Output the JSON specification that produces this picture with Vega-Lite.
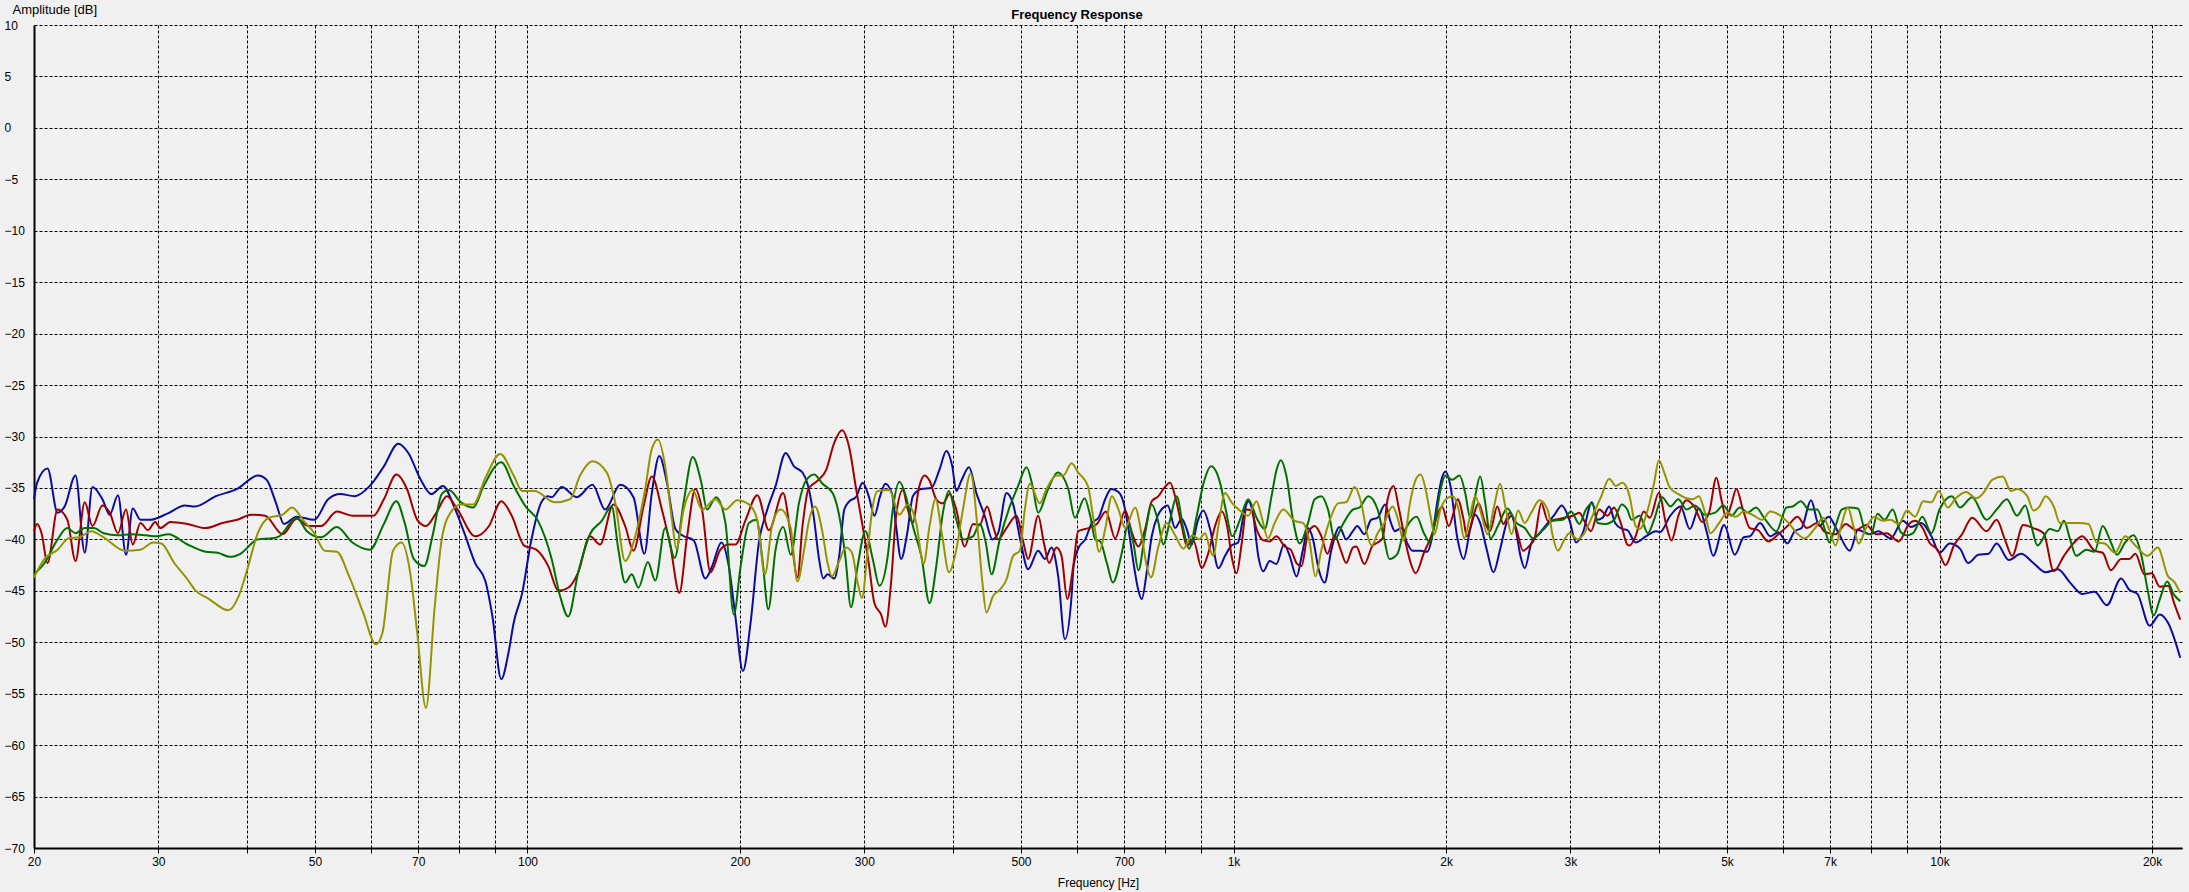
{
"$schema": "https://vega.github.io/schema/vega-lite/v6.json",
"width": 2148,
"height": 823,
"autosize": {"type": "none"},
"padding": {"left": 34, "top": 25, "right": 7, "bottom": 44},
"background": "#f0f0f0",
"config": {"view": {"stroke": null}, "font": "Liberation Sans"},
"title": {"text": "Frequency Response", "fontSize": 13, "fontWeight": "bold", "color": "#000000", "anchor": "middle", "frame": "group", "dx": -31, "offset": -32, "baseline": "bottom"},
"datasets": {
"blue": [
{"freq":20,"db":-36.1},{"freq":20.2,"db":-34.5},{"freq":20.9,"db":-33.1},{"freq":21.6,"db":-37.4},{"freq":22.1,"db":-36.8},{"freq":22.9,"db":-33.8},{"freq":23.6,"db":-41.3},{"freq":24.2,"db":-34.9},{"freq":25,"db":-36.1},{"freq":25.6,"db":-37.6},{"freq":26.3,"db":-35.7},{"freq":27,"db":-41.5},{"freq":27.6,"db":-37},{"freq":28.3,"db":-38.1},{"freq":29.2,"db":-38.1},{"freq":30.9,"db":-37.5},{"freq":32.7,"db":-36.7},{"freq":33.8,"db":-36.8},{"freq":36.2,"db":-35.8},{"freq":38.8,"db":-35.1},{"freq":41.5,"db":-33.8},{"freq":42.7,"db":-34.2},{"freq":44,"db":-36.4},{"freq":45.2,"db":-38.5},{"freq":47.1,"db":-37.8},{"freq":49.9,"db":-38.1},{"freq":52.2,"db":-36.1},{"freq":54.3,"db":-35.6},{"freq":56.9,"db":-35.8},{"freq":59.8,"db":-34.8},{"freq":62.6,"db":-32.9},{"freq":65.6,"db":-30.7},{"freq":67.8,"db":-31.6},{"freq":70.6,"db":-34.2},{"freq":73.1,"db":-35.6},{"freq":75.9,"db":-34.8},{"freq":78.7,"db":-36.8},{"freq":81.4,"db":-39.4},{"freq":84.3,"db":-42.3},{"freq":87.2,"db":-44.1},{"freq":89.2,"db":-47.5},{"freq":91.8,"db":-53.6},{"freq":94,"db":-51},{"freq":95.6,"db":-48.1},{"freq":98.3,"db":-45.2},{"freq":101.1,"db":-40.3},{"freq":104.6,"db":-36.4},{"freq":106.8,"db":-35.8},{"freq":108.2,"db":-35.9},{"freq":111.8,"db":-34.9},{"freq":117.4,"db":-35.9},{"freq":123.6,"db":-34.7},{"freq":128.8,"db":-37.1},{"freq":135.3,"db":-34.7},{"freq":141.3,"db":-35.9},{"freq":146.4,"db":-41.4},{"freq":150,"db":-35.5},{"freq":153.7,"db":-31.9},{"freq":157.6,"db":-34.5},{"freq":162,"db":-39},{"freq":165.6,"db":-39.6},{"freq":172,"db":-40.1},{"freq":178.6,"db":-43.8},{"freq":182.6,"db":-42.6},{"freq":188.2,"db":-40.3},{"freq":192.8,"db":-42.6},{"freq":197,"db":-47.5},{"freq":201.9,"db":-52.8},{"freq":207,"db":-48.1},{"freq":212.7,"db":-40.3},{"freq":218.6,"db":-37.1},{"freq":224.6,"db":-34.8},{"freq":232.1,"db":-31.6},{"freq":238.5,"db":-32.9},{"freq":245.2,"db":-33.5},{"freq":249.2,"db":-34.6},{"freq":254.7,"db":-38.1},{"freq":258.4,"db":-41.6},{"freq":262.4,"db":-43.8},{"freq":266.1,"db":-43.4},{"freq":272,"db":-43.8},{"freq":276.4,"db":-41.6},{"freq":281,"db":-37.1},{"freq":285.6,"db":-36.3},{"freq":291.9,"db":-35.9},{"freq":298.3,"db":-34.5},{"freq":304.3,"db":-35.8},{"freq":310,"db":-37.7},{"freq":315.8,"db":-35.8},{"freq":321.3,"db":-34.6},{"freq":328.4,"db":-35.6},{"freq":332.7,"db":-38.7},{"freq":338.2,"db":-41.9},{"freq":345,"db":-39.4},{"freq":351.4,"db":-35.8},{"freq":361.2,"db":-35.1},{"freq":373.2,"db":-35},{"freq":383.4,"db":-33.2},{"freq":391.9,"db":-31.4},{"freq":399.6,"db":-32.9},{"freq":404.9,"db":-35.3},{"freq":411.6,"db":-34.3},{"freq":422,"db":-33},{"freq":432.3,"db":-35.5},{"freq":444.2,"db":-37.7},{"freq":455.6,"db":-40},{"freq":464.1,"db":-39.4},{"freq":476.9,"db":-35.5},{"freq":487.4,"db":-36.6},{"freq":499.7,"db":-40.3},{"freq":511.8,"db":-42.9},{"freq":528.8,"db":-41.1},{"freq":540.5,"db":-41.9},{"freq":552.3,"db":-40.8},{"freq":564.5,"db":-43.6},{"freq":577,"db":-49.7},{"freq":589.7,"db":-45.5},{"freq":593.6,"db":-42.6},{"freq":603.4,"db":-40.8},{"freq":616.6,"db":-40},{"freq":630.1,"db":-38.4},{"freq":643.9,"db":-37.9},{"freq":658,"db":-36.1},{"freq":671,"db":-35.1},{"freq":687.2,"db":-35.4},{"freq":698.4,"db":-36.4},{"freq":709.9,"db":-39},{"freq":724,"db":-42.9},{"freq":733.4,"db":-45},{"freq":741.3,"db":-45.8},{"freq":753.5,"db":-43.2},{"freq":765.9,"db":-39.7},{"freq":781,"db":-37.7},{"freq":795.6,"db":-36.9},{"freq":806.9,"db":-36.7},{"freq":826.5,"db":-38.9},{"freq":844.6,"db":-38},{"freq":858.4,"db":-39},{"freq":872.6,"db":-40.5},{"freq":889.9,"db":-38.2},{"freq":906.5,"db":-37.2},{"freq":926.4,"db":-39},{"freq":951.9,"db":-42.8},{"freq":972.8,"db":-41.6},{"freq":993.6,"db":-40.6},{"freq":1015,"db":-40.3},{"freq":1032,"db":-37.9},{"freq":1049,"db":-36.3},{"freq":1066,"db":-37.6},{"freq":1084,"db":-41.6},{"freq":1102,"db":-43.1},{"freq":1125,"db":-42.1},{"freq":1150,"db":-42.4},{"freq":1179,"db":-40.5},{"freq":1201,"db":-41.6},{"freq":1228,"db":-43.6},{"freq":1254,"db":-41},{"freq":1275,"db":-38.9},{"freq":1296,"db":-40},{"freq":1320,"db":-42.9},{"freq":1346,"db":-44.2},{"freq":1376,"db":-41},{"freq":1413,"db":-38.8},{"freq":1444,"db":-40},{"freq":1476,"db":-39.2},{"freq":1497,"db":-38.7},{"freq":1532,"db":-39.5},{"freq":1566,"db":-38.1},{"freq":1600,"db":-37.9},{"freq":1639,"db":-36.6},{"freq":1671,"db":-38.4},{"freq":1692,"db":-39.2},{"freq":1729,"db":-38.9},{"freq":1763,"db":-40.4},{"freq":1792,"db":-41.1},{"freq":1841,"db":-41.1},{"freq":1881,"db":-41.2},{"freq":1912,"db":-39.7},{"freq":1943,"db":-36.4},{"freq":1974,"db":-34},{"freq":1996,"db":-33.4},{"freq":2029,"db":-34.8},{"freq":2073,"db":-39.7},{"freq":2118,"db":-41.9},{"freq":2164,"db":-39},{"freq":2199,"db":-37.6},{"freq":2235,"db":-38.4},{"freq":2284,"db":-41},{"freq":2334,"db":-43.2},{"freq":2385,"db":-41},{"freq":2437,"db":-38.4},{"freq":2476,"db":-37.7},{"freq":2516,"db":-39.4},{"freq":2549,"db":-41.6},{"freq":2585,"db":-42.8},{"freq":2641,"db":-40.4},{"freq":2713,"db":-39.4},{"freq":2788,"db":-38.4},{"freq":2849,"db":-37.6},{"freq":2917,"db":-36.7},{"freq":2990,"db":-38.1},{"freq":3056,"db":-40.3},{"freq":3123,"db":-39.4},{"freq":3218,"db":-36.4},{"freq":3278,"db":-38.1},{"freq":3332,"db":-37.9},{"freq":3405,"db":-36.8},{"freq":3471,"db":-38.4},{"freq":3554,"db":-39},{"freq":3612,"db":-39.1},{"freq":3711,"db":-40.3},{"freq":3837,"db":-39.7},{"freq":3967,"db":-39.2},{"freq":4019,"db":-39.3},{"freq":4156,"db":-37.7},{"freq":4296,"db":-36.8},{"freq":4429,"db":-39},{"freq":4561,"db":-37},{"freq":4685,"db":-39.4},{"freq":4779,"db":-41.6},{"freq":4953,"db":-38.6},{"freq":5129,"db":-41.5},{"freq":5281,"db":-39.8},{"freq":5387,"db":-39.7},{"freq":5569,"db":-38.4},{"freq":5757,"db":-39.7},{"freq":5912,"db":-39.3},{"freq":6087,"db":-40.4},{"freq":6235,"db":-39.2},{"freq":6377,"db":-38.9},{"freq":6576,"db":-36.2},{"freq":6754,"db":-38.7},{"freq":6964,"db":-37.8},{"freq":7171,"db":-39.2},{"freq":7463,"db":-41.1},{"freq":7664,"db":-39.1},{"freq":7976,"db":-39.5},{"freq":8190,"db":-39.2},{"freq":8525,"db":-39.9},{"freq":8872,"db":-38.2},{"freq":9112,"db":-38.8},{"freq":9419,"db":-38.4},{"freq":9738,"db":-39.7},{"freq":10000,"db":-41.3},{"freq":10339,"db":-40.4},{"freq":10689,"db":-40.9},{"freq":10978,"db":-42.3},{"freq":11348,"db":-41.5},{"freq":11730,"db":-41.4},{"freq":12047,"db":-40.4},{"freq":12536,"db":-42},{"freq":13048,"db":-41.4},{"freq":13580,"db":-42.3},{"freq":14132,"db":-43.2},{"freq":14710,"db":-42.9},{"freq":15307,"db":-44.2},{"freq":15929,"db":-45.3},{"freq":16580,"db":-45.1},{"freq":17255,"db":-46.4},{"freq":18077,"db":-43.8},{"freq":18566,"db":-44.9},{"freq":19064,"db":-45.3},{"freq":19843,"db":-48.4},{"freq":20512,"db":-47.3},{"freq":21067,"db":-48.1},{"freq":21923,"db":-51.5}
],
"red": [
{"freq":20,"db":-39.2},{"freq":20.2,"db":-38.5},{"freq":20.5,"db":-39.4},{"freq":20.9,"db":-42.3},{"freq":21.6,"db":-37.1},{"freq":22.3,"db":-38.1},{"freq":22.9,"db":-42.1},{"freq":23.6,"db":-36.4},{"freq":24.2,"db":-38.7},{"freq":25,"db":-36.7},{"freq":25.6,"db":-37.4},{"freq":26.3,"db":-39.4},{"freq":27,"db":-37.1},{"freq":27.6,"db":-40.5},{"freq":28.3,"db":-38.4},{"freq":29,"db":-39.1},{"freq":29.7,"db":-38.3},{"freq":30.2,"db":-38.9},{"freq":31.2,"db":-38.3},{"freq":33,"db":-38.5},{"freq":35,"db":-38.9},{"freq":37,"db":-38.4},{"freq":38.8,"db":-38.1},{"freq":40.6,"db":-37.6},{"freq":42.5,"db":-37.7},{"freq":45,"db":-39.5},{"freq":47.1,"db":-38},{"freq":49,"db":-38.7},{"freq":51,"db":-38.7},{"freq":53.7,"db":-37.3},{"freq":56.5,"db":-37.7},{"freq":60.5,"db":-37.7},{"freq":62.6,"db":-36.1},{"freq":65.2,"db":-33.7},{"freq":67.5,"db":-35.1},{"freq":69.8,"db":-38.1},{"freq":71.8,"db":-38.7},{"freq":74.3,"db":-37.4},{"freq":76.9,"db":-35.8},{"freq":79.6,"db":-37.1},{"freq":84.3,"db":-39.7},{"freq":88.2,"db":-38.7},{"freq":91.8,"db":-36.3},{"freq":95,"db":-37.7},{"freq":98.9,"db":-40.6},{"freq":102.9,"db":-41},{"freq":107,"db":-42.6},{"freq":110.6,"db":-45},{"freq":114.2,"db":-44.7},{"freq":118,"db":-43.2},{"freq":122.6,"db":-39.7},{"freq":126.7,"db":-40.5},{"freq":132.3,"db":-36.6},{"freq":137.5,"db":-38.7},{"freq":141.3,"db":-41.1},{"freq":146,"db":-36.8},{"freq":150,"db":-33.9},{"freq":155,"db":-37.1},{"freq":159.3,"db":-40.6},{"freq":164.1,"db":-45.2},{"freq":168.3,"db":-39.7},{"freq":172.9,"db":-35.1},{"freq":176.7,"db":-37.1},{"freq":181.6,"db":-43.2},{"freq":187.6,"db":-41},{"freq":192.8,"db":-40.5},{"freq":197,"db":-40.5},{"freq":203.7,"db":-38.1},{"freq":211.6,"db":-35.7},{"freq":219.8,"db":-39.1},{"freq":230.1,"db":-35.5},{"freq":235.9,"db":-39.5},{"freq":241.2,"db":-43.7},{"freq":245.2,"db":-38.7},{"freq":250,"db":-35.1},{"freq":257.5,"db":-34.3},{"freq":264.7,"db":-33.3},{"freq":272,"db":-30.6},{"freq":278.9,"db":-29.4},{"freq":285.6,"db":-31.1},{"freq":291.9,"db":-35},{"freq":298.3,"db":-38.7},{"freq":304.3,"db":-42.3},{"freq":310,"db":-46.2},{"freq":316.8,"db":-47.3},{"freq":321.3,"db":-48.5},{"freq":327.3,"db":-44.2},{"freq":332.7,"db":-37.7},{"freq":340.1,"db":-35.2},{"freq":345.7,"db":-37.1},{"freq":351.4,"db":-38.4},{"freq":358.4,"db":-35},{"freq":365.1,"db":-33.8},{"freq":371.1,"db":-34.3},{"freq":379.3,"db":-36.1},{"freq":387.6,"db":-36.5},{"freq":396.2,"db":-35.6},{"freq":404.9,"db":-37.1},{"freq":416,"db":-40.7},{"freq":427.6,"db":-38.5},{"freq":437,"db":-38.6},{"freq":447.7,"db":-36.8},{"freq":456.5,"db":-38.7},{"freq":464.1,"db":-40},{"freq":476.9,"db":-38.9},{"freq":492.8,"db":-37.7},{"freq":503.5,"db":-40.2},{"freq":511.8,"db":-41.9},{"freq":528.8,"db":-37.7},{"freq":538.6,"db":-40.3},{"freq":548.1,"db":-42.3},{"freq":561.4,"db":-40.8},{"freq":570.7,"db":-41.6},{"freq":581.4,"db":-45.8},{"freq":592.9,"db":-42.6},{"freq":602.6,"db":-39.2},{"freq":623.3,"db":-38.9},{"freq":640.4,"db":-38.5},{"freq":659.5,"db":-37.3},{"freq":679.8,"db":-39.9},{"freq":702.3,"db":-37.2},{"freq":717.6,"db":-39.3},{"freq":733.4,"db":-40.7},{"freq":749.5,"db":-39},{"freq":765.9,"db":-36.3},{"freq":782.7,"db":-35.8},{"freq":795.6,"db":-35.1},{"freq":813.1,"db":-34.5},{"freq":826.5,"db":-35.8},{"freq":844.6,"db":-38.7},{"freq":858.4,"db":-40.6},{"freq":877.4,"db":-40.1},{"freq":901.5,"db":-42.8},{"freq":921.3,"db":-41.3},{"freq":941.7,"db":-38.7},{"freq":962.2,"db":-37.3},{"freq":981,"db":-39},{"freq":993.6,"db":-41.6},{"freq":1010,"db":-43.3},{"freq":1027,"db":-40.4},{"freq":1043,"db":-37.1},{"freq":1060,"db":-37.2},{"freq":1078,"db":-39},{"freq":1102,"db":-40.1},{"freq":1125,"db":-40.2},{"freq":1150,"db":-39.7},{"freq":1182,"db":-40.7},{"freq":1205,"db":-41},{"freq":1228,"db":-42.3},{"freq":1248,"db":-42.6},{"freq":1275,"db":-39.4},{"freq":1303,"db":-38.7},{"freq":1332,"db":-39.7},{"freq":1358,"db":-41.4},{"freq":1391,"db":-39.6},{"freq":1418,"db":-41},{"freq":1444,"db":-42.3},{"freq":1476,"db":-40.8},{"freq":1492,"db":-40.7},{"freq":1532,"db":-42.4},{"freq":1574,"db":-40.6},{"freq":1600,"db":-40.3},{"freq":1626,"db":-39.9},{"freq":1653,"db":-36.1},{"freq":1685,"db":-34.8},{"freq":1716,"db":-37.1},{"freq":1754,"db":-40.4},{"freq":1782,"db":-42.3},{"freq":1811,"db":-43.3},{"freq":1861,"db":-41.3},{"freq":1912,"db":-39.4},{"freq":1943,"db":-37.7},{"freq":1974,"db":-36.8},{"freq":2018,"db":-38.7},{"freq":2050,"db":-37.4},{"freq":2077,"db":-36.1},{"freq":2118,"db":-38.1},{"freq":2140,"db":-39.7},{"freq":2187,"db":-37.7},{"freq":2223,"db":-36.5},{"freq":2272,"db":-38.4},{"freq":2308,"db":-39.2},{"freq":2364,"db":-36.8},{"freq":2411,"db":-38.5},{"freq":2463,"db":-37.4},{"freq":2516,"db":-39},{"freq":2571,"db":-41.1},{"freq":2627,"db":-40.6},{"freq":2670,"db":-39.9},{"freq":2729,"db":-36.5},{"freq":2788,"db":-38.2},{"freq":2849,"db":-38.1},{"freq":2943,"db":-37.9},{"freq":3023,"db":-37.7},{"freq":3089,"db":-37.4},{"freq":3139,"db":-38.2},{"freq":3208,"db":-39.2},{"freq":3295,"db":-37.1},{"freq":3386,"db":-37.7},{"freq":3459,"db":-36.9},{"freq":3535,"db":-38.4},{"freq":3612,"db":-40.5},{"freq":3639,"db":-40.6},{"freq":3711,"db":-39.7},{"freq":3811,"db":-37.3},{"freq":3888,"db":-37.9},{"freq":4003,"db":-35.5},{"freq":4101,"db":-38.6},{"freq":4172,"db":-40.1},{"freq":4267,"db":-37.7},{"freq":4382,"db":-36.2},{"freq":4501,"db":-36.9},{"freq":4610,"db":-38.3},{"freq":4716,"db":-37.4},{"freq":4830,"db":-34},{"freq":4908,"db":-36.1},{"freq":4987,"db":-37.9},{"freq":5061,"db":-36.8},{"freq":5156,"db":-35.1},{"freq":5266,"db":-37.1},{"freq":5387,"db":-38.9},{"freq":5532,"db":-39.1},{"freq":5718,"db":-40.2},{"freq":5912,"db":-39.5},{"freq":6111,"db":-38.6},{"freq":6293,"db":-37.8},{"freq":6489,"db":-38.9},{"freq":6709,"db":-38.4},{"freq":6890,"db":-39.3},{"freq":7124,"db":-39.5},{"freq":7364,"db":-38.5},{"freq":7614,"db":-39.1},{"freq":7870,"db":-38.6},{"freq":8137,"db":-39.5},{"freq":8412,"db":-39.4},{"freq":8754,"db":-40.2},{"freq":9051,"db":-38.5},{"freq":9234,"db":-38.2},{"freq":9482,"db":-39},{"freq":9673,"db":-40.3},{"freq":9934,"db":-41},{"freq":10202,"db":-42.5},{"freq":10479,"db":-40.6},{"freq":10761,"db":-39.5},{"freq":11123,"db":-37.9},{"freq":11655,"db":-39.2},{"freq":12047,"db":-38.1},{"freq":12373,"db":-40},{"freq":12672,"db":-41.6},{"freq":13136,"db":-38.6},{"freq":13580,"db":-38.9},{"freq":14041,"db":-39.4},{"freq":14514,"db":-43.1},{"freq":15004,"db":-41.6},{"freq":15513,"db":-40.3},{"freq":15929,"db":-39.7},{"freq":16580,"db":-41.1},{"freq":17025,"db":-41.3},{"freq":17487,"db":-43},{"freq":18077,"db":-41.9},{"freq":18566,"db":-41.9},{"freq":18941,"db":-41.4},{"freq":19503,"db":-43.4},{"freq":19976,"db":-43.3},{"freq":20512,"db":-44.6},{"freq":21067,"db":-44.5},{"freq":21489,"db":-46.2},{"freq":21923,"db":-47.8}
],
"green": [
{"freq":20,"db":-43.4},{"freq":20.7,"db":-42.3},{"freq":21.6,"db":-40},{"freq":22.3,"db":-38.9},{"freq":22.9,"db":-39.4},{"freq":23.6,"db":-38.9},{"freq":24.3,"db":-38.9},{"freq":25.1,"db":-39.4},{"freq":26.3,"db":-39.6},{"freq":27.5,"db":-39.5},{"freq":28.8,"db":-39.6},{"freq":29.8,"db":-39.7},{"freq":31,"db":-39.5},{"freq":33,"db":-40.5},{"freq":35,"db":-41.2},{"freq":36.4,"db":-41.3},{"freq":37.9,"db":-41.7},{"freq":39.2,"db":-41.4},{"freq":41.5,"db":-40},{"freq":43.5,"db":-39.9},{"freq":44.5,"db":-39.7},{"freq":47.1,"db":-37.9},{"freq":48.7,"db":-39.2},{"freq":51,"db":-39.8},{"freq":53.7,"db":-38.8},{"freq":56.5,"db":-40.3},{"freq":59.8,"db":-41},{"freq":62.6,"db":-38.5},{"freq":65.2,"db":-36.3},{"freq":67,"db":-38.4},{"freq":69,"db":-41.9},{"freq":71.4,"db":-42.6},{"freq":73.5,"db":-39.4},{"freq":75.6,"db":-35.6},{"freq":77.4,"db":-35.2},{"freq":80.5,"db":-36.4},{"freq":83.8,"db":-36.9},{"freq":86.7,"db":-34.8},{"freq":91.8,"db":-32.5},{"freq":95.6,"db":-34.8},{"freq":99.4,"db":-36.8},{"freq":103.5,"db":-38.2},{"freq":108.2,"db":-41.9},{"freq":111.2,"db":-45.5},{"freq":114.2,"db":-47.5},{"freq":118,"db":-43.2},{"freq":122.6,"db":-39.5},{"freq":127.4,"db":-38.2},{"freq":131.6,"db":-36.8},{"freq":134.5,"db":-41},{"freq":137.5,"db":-44.2},{"freq":140.5,"db":-43.4},{"freq":143.6,"db":-44.7},{"freq":148.1,"db":-42.2},{"freq":151.7,"db":-44},{"freq":156.7,"db":-38.9},{"freq":161.6,"db":-41.8},{"freq":166.4,"db":-36.4},{"freq":171.4,"db":-32},{"freq":176.3,"db":-34.5},{"freq":179.6,"db":-37.1},{"freq":185,"db":-35.9},{"freq":190.7,"db":-38.4},{"freq":196,"db":-47.3},{"freq":200.4,"db":-42.6},{"freq":205.9,"db":-38.4},{"freq":210.9,"db":-38.1},{"freq":215.1,"db":-41.9},{"freq":219.3,"db":-46.8},{"freq":224.6,"db":-41},{"freq":230.3,"db":-38.8},{"freq":236,"db":-41.5},{"freq":242.5,"db":-36.4},{"freq":247.9,"db":-34.3},{"freq":254.7,"db":-33.7},{"freq":261.8,"db":-34.6},{"freq":270.5,"db":-35.5},{"freq":276.4,"db":-37.7},{"freq":281.9,"db":-41.6},{"freq":287.2,"db":-46.6},{"freq":293.5,"db":-42.6},{"freq":301,"db":-39.2},{"freq":308.3,"db":-41.9},{"freq":315.1,"db":-44.5},{"freq":323.8,"db":-41.6},{"freq":329.1,"db":-37.1},{"freq":336.4,"db":-34.4},{"freq":343.8,"db":-35.9},{"freq":351.4,"db":-38.7},{"freq":361.2,"db":-41.6},{"freq":371.1,"db":-46.2},{"freq":379.3,"db":-42.6},{"freq":387.6,"db":-37.4},{"freq":395.3,"db":-35.3},{"freq":404.9,"db":-38.1},{"freq":413.8,"db":-40},{"freq":427.6,"db":-39.7},{"freq":437,"db":-38.5},{"freq":445.7,"db":-40.3},{"freq":454.1,"db":-43.4},{"freq":466.6,"db":-40},{"freq":482.1,"db":-36.8},{"freq":495.4,"db":-34.8},{"freq":509.1,"db":-33},{"freq":519.2,"db":-34.8},{"freq":528.8,"db":-37.4},{"freq":546.3,"db":-35.1},{"freq":563.3,"db":-33.5},{"freq":583.3,"db":-35.1},{"freq":596.2,"db":-37.9},{"freq":615.2,"db":-36},{"freq":626.6,"db":-37.7},{"freq":637,"db":-40},{"freq":647.4,"db":-40.2},{"freq":661.6,"db":-42.3},{"freq":674.7,"db":-44.2},{"freq":694.7,"db":-41.3},{"freq":709.9,"db":-38.4},{"freq":721.6,"db":-40.4},{"freq":733.4,"db":-43},{"freq":749.5,"db":-39.4},{"freq":765.9,"db":-36.6},{"freq":781,"db":-38.1},{"freq":795.6,"db":-40.5},{"freq":813.1,"db":-38.1},{"freq":830.9,"db":-35.8},{"freq":849.2,"db":-39},{"freq":865,"db":-40.9},{"freq":887,"db":-37.7},{"freq":906.5,"db":-34.6},{"freq":929.4,"db":-32.9},{"freq":957,"db":-34.5},{"freq":974.9,"db":-37.1},{"freq":995.7,"db":-39.7},{"freq":1021,"db":-38.1},{"freq":1049,"db":-36.1},{"freq":1078,"db":-37.9},{"freq":1107,"db":-39},{"freq":1132,"db":-35.8},{"freq":1150,"db":-33.3},{"freq":1167,"db":-32.3},{"freq":1188,"db":-33.8},{"freq":1214,"db":-38.1},{"freq":1241,"db":-40.4},{"freq":1275,"db":-38.4},{"freq":1303,"db":-36.1},{"freq":1332,"db":-35.8},{"freq":1361,"db":-37.1},{"freq":1391,"db":-40},{"freq":1429,"db":-38.5},{"freq":1476,"db":-37.1},{"freq":1508,"db":-36.9},{"freq":1552,"db":-35.8},{"freq":1600,"db":-37.1},{"freq":1635,"db":-40},{"freq":1662,"db":-41.9},{"freq":1707,"db":-41.4},{"freq":1735,"db":-39.7},{"freq":1773,"db":-38.4},{"freq":1817,"db":-37.8},{"freq":1861,"db":-39.4},{"freq":1898,"db":-40.3},{"freq":1932,"db":-38.1},{"freq":1964,"db":-35.2},{"freq":1996,"db":-33.8},{"freq":2040,"db":-34.2},{"freq":2090,"db":-33.8},{"freq":2129,"db":-35.5},{"freq":2164,"db":-37.9},{"freq":2199,"db":-35.8},{"freq":2235,"db":-33.9},{"freq":2272,"db":-36.4},{"freq":2313,"db":-39.9},{"freq":2372,"db":-38.6},{"freq":2442,"db":-37},{"freq":2516,"db":-38.4},{"freq":2585,"db":-38.9},{"freq":2657,"db":-39.9},{"freq":2743,"db":-39.1},{"freq":2833,"db":-38.2},{"freq":2927,"db":-38.1},{"freq":3007,"db":-37.3},{"freq":3089,"db":-38.5},{"freq":3156,"db":-37.1},{"freq":3225,"db":-36.5},{"freq":3278,"db":-38.4},{"freq":3368,"db":-38.5},{"freq":3459,"db":-38.1},{"freq":3547,"db":-36.6},{"freq":3612,"db":-37.1},{"freq":3663,"db":-38.1},{"freq":3761,"db":-37.7},{"freq":3862,"db":-39.4},{"freq":3950,"db":-37.9},{"freq":4046,"db":-35.9},{"freq":4156,"db":-36.8},{"freq":4267,"db":-36.1},{"freq":4382,"db":-37.1},{"freq":4501,"db":-36.7},{"freq":4653,"db":-37.6},{"freq":4811,"db":-37.4},{"freq":4941,"db":-36.7},{"freq":5074,"db":-37.7},{"freq":5211,"db":-36.9},{"freq":5351,"db":-37.4},{"freq":5495,"db":-36.9},{"freq":5643,"db":-37.9},{"freq":5873,"db":-39.2},{"freq":6071,"db":-36.9},{"freq":6194,"db":-36.8},{"freq":6361,"db":-36.3},{"freq":6532,"db":-37.1},{"freq":6709,"db":-37.1},{"freq":6890,"db":-39.2},{"freq":6982,"db":-40.3},{"freq":7124,"db":-38.7},{"freq":7267,"db":-37.1},{"freq":7442,"db":-36.9},{"freq":7664,"db":-37},{"freq":7870,"db":-39.4},{"freq":7998,"db":-39.5},{"freq":8169,"db":-37.5},{"freq":8356,"db":-38.1},{"freq":8582,"db":-37.1},{"freq":8813,"db":-39.3},{"freq":8991,"db":-39.6},{"freq":9173,"db":-39.4},{"freq":9456,"db":-37.8},{"freq":9738,"db":-39.4},{"freq":10000,"db":-37.1},{"freq":10409,"db":-35.8},{"freq":10689,"db":-36.9},{"freq":11123,"db":-35.9},{"freq":11655,"db":-38.1},{"freq":12047,"db":-37.1},{"freq":12453,"db":-36.1},{"freq":12875,"db":-37.7},{"freq":13224,"db":-36.7},{"freq":13490,"db":-38.7},{"freq":13762,"db":-40.6},{"freq":14322,"db":-39},{"freq":14710,"db":-39.2},{"freq":15004,"db":-38.2},{"freq":15307,"db":-40},{"freq":15617,"db":-41.6},{"freq":16143,"db":-41},{"freq":16580,"db":-41.2},{"freq":17025,"db":-38.7},{"freq":17487,"db":-40.3},{"freq":17841,"db":-41.5},{"freq":18320,"db":-40.3},{"freq":18815,"db":-39.6},{"freq":19320,"db":-41.6},{"freq":19711,"db":-44.9},{"freq":20109,"db":-47.4},{"freq":20512,"db":-45.8},{"freq":21009,"db":-44.1},{"freq":21489,"db":-45.4},{"freq":21923,"db":-46}
],
"olive": [
{"freq":20,"db":-43.7},{"freq":20.7,"db":-41.9},{"freq":21.6,"db":-41},{"freq":22.4,"db":-39.9},{"freq":23.2,"db":-39.8},{"freq":24.1,"db":-39.2},{"freq":25.1,"db":-39.8},{"freq":26.9,"db":-41.1},{"freq":28.3,"db":-41},{"freq":29.5,"db":-40.3},{"freq":30.3,"db":-40.4},{"freq":31.6,"db":-42.3},{"freq":33,"db":-43.9},{"freq":33.8,"db":-44.9},{"freq":35.4,"db":-45.8},{"freq":37.7,"db":-46.9},{"freq":39,"db":-45.5},{"freq":40.1,"db":-42.9},{"freq":41.5,"db":-39.4},{"freq":43,"db":-37.9},{"freq":45,"db":-37.6},{"freq":46.4,"db":-36.9},{"freq":48.2,"db":-38.2},{"freq":49.9,"db":-39.4},{"freq":51.6,"db":-41.1},{"freq":53.7,"db":-41.2},{"freq":55.9,"db":-43.6},{"freq":58.5,"db":-47.1},{"freq":61,"db":-50.2},{"freq":62.3,"db":-49.1},{"freq":64.5,"db":-41.1},{"freq":66.3,"db":-40.3},{"freq":68.2,"db":-43.2},{"freq":69.8,"db":-49.1},{"freq":71.8,"db":-56.4},{"freq":73.9,"db":-46.5},{"freq":75.6,"db":-40},{"freq":77.8,"db":-37.4},{"freq":80.5,"db":-36.6},{"freq":83.8,"db":-36.6},{"freq":87.2,"db":-34},{"freq":91.5,"db":-31.7},{"freq":95.6,"db":-33.8},{"freq":98.3,"db":-35.3},{"freq":102.3,"db":-35.3},{"freq":109.4,"db":-36.4},{"freq":114.9,"db":-36.1},{"freq":118.7,"db":-33.8},{"freq":123.6,"db":-32.4},{"freq":129.5,"db":-33.5},{"freq":133.1,"db":-36.4},{"freq":137.5,"db":-42.1},{"freq":142.1,"db":-39.7},{"freq":146.8,"db":-35.1},{"freq":150,"db":-31.2},{"freq":153,"db":-30.3},{"freq":156.7,"db":-32.9},{"freq":160.2,"db":-38.1},{"freq":162.5,"db":-40.9},{"freq":166.4,"db":-37.1},{"freq":171.4,"db":-35.2},{"freq":176.7,"db":-37.1},{"freq":184.6,"db":-36.1},{"freq":190.7,"db":-37.1},{"freq":198.2,"db":-36.2},{"freq":205.9,"db":-36.6},{"freq":211.6,"db":-38.1},{"freq":216.9,"db":-43.4},{"freq":222.2,"db":-38.5},{"freq":228.3,"db":-37.1},{"freq":235.9,"db":-38.9},{"freq":241.2,"db":-44.1},{"freq":246.5,"db":-41},{"freq":250.6,"db":-38.1},{"freq":255.5,"db":-36.8},{"freq":261.2,"db":-39},{"freq":266.1,"db":-42.3},{"freq":269.9,"db":-43.6},{"freq":276.4,"db":-42.1},{"freq":282.5,"db":-40.8},{"freq":288.1,"db":-41.3},{"freq":293.5,"db":-44.2},{"freq":297.7,"db":-45.7},{"freq":303.3,"db":-41},{"freq":308.3,"db":-36.8},{"freq":313.3,"db":-35.3},{"freq":325.5,"db":-35.2},{"freq":336.4,"db":-37.6},{"freq":345.7,"db":-36.6},{"freq":355.3,"db":-38.4},{"freq":363.9,"db":-42.4},{"freq":371.1,"db":-38.7},{"freq":378.4,"db":-36.1},{"freq":386.8,"db":-39.7},{"freq":395.3,"db":-43.2},{"freq":404.9,"db":-41},{"freq":413.8,"db":-37.1},{"freq":424.3,"db":-33.6},{"freq":434.6,"db":-39.4},{"freq":440.9,"db":-44.2},{"freq":446.7,"db":-47.1},{"freq":456.5,"db":-45.5},{"freq":466.6,"db":-44.9},{"freq":476.9,"db":-43.9},{"freq":487.4,"db":-41.6},{"freq":498.1,"db":-41.1},{"freq":506.3,"db":-37.1},{"freq":514.6,"db":-34.6},{"freq":531.7,"db":-36.5},{"freq":543.3,"db":-35.1},{"freq":561.4,"db":-33.8},{"freq":573.9,"db":-33.8},{"freq":589.7,"db":-32.6},{"freq":602.6,"db":-33.5},{"freq":621.9,"db":-34.8},{"freq":633.5,"db":-38.1},{"freq":645.3,"db":-41.2},{"freq":658,"db":-39},{"freq":672.5,"db":-35.8},{"freq":687.2,"db":-37.1},{"freq":702.3,"db":-38.9},{"freq":725.5,"db":-36.9},{"freq":741.3,"db":-39.6},{"freq":753.5,"db":-42.6},{"freq":764.2,"db":-43.7},{"freq":782.7,"db":-40.7},{"freq":804.3,"db":-38.4},{"freq":826.5,"db":-39.6},{"freq":849.2,"db":-40.9},{"freq":874.5,"db":-39.6},{"freq":893.8,"db":-40},{"freq":911.4,"db":-39.4},{"freq":926.4,"db":-41},{"freq":936.5,"db":-41.6},{"freq":951.9,"db":-38.7},{"freq":972.8,"db":-35.5},{"freq":993.6,"db":-36.4},{"freq":1021,"db":-37.2},{"freq":1049,"db":-37.7},{"freq":1078,"db":-36.3},{"freq":1095,"db":-37.7},{"freq":1119,"db":-39.9},{"freq":1144,"db":-38.4},{"freq":1176,"db":-37.1},{"freq":1221,"db":-38.2},{"freq":1254,"db":-38.4},{"freq":1282,"db":-40.3},{"freq":1306,"db":-43.6},{"freq":1332,"db":-41},{"freq":1376,"db":-37.7},{"freq":1406,"db":-36.5},{"freq":1444,"db":-36.4},{"freq":1484,"db":-34.9},{"freq":1516,"db":-36.4},{"freq":1549,"db":-39.7},{"freq":1569,"db":-40.6},{"freq":1600,"db":-39.4},{"freq":1635,"db":-38.4},{"freq":1680,"db":-36.8},{"freq":1711,"db":-38.1},{"freq":1740,"db":-40.1},{"freq":1782,"db":-36.1},{"freq":1811,"db":-34.2},{"freq":1841,"db":-33.7},{"freq":1871,"db":-35.1},{"freq":1901,"db":-37.7},{"freq":1926,"db":-39.5},{"freq":1964,"db":-37.1},{"freq":2007,"db":-36},{"freq":2046,"db":-35.8},{"freq":2084,"db":-37.1},{"freq":2122,"db":-39.9},{"freq":2164,"db":-37.6},{"freq":2199,"db":-35.8},{"freq":2247,"db":-37.7},{"freq":2289,"db":-39.5},{"freq":2339,"db":-36.8},{"freq":2385,"db":-34.6},{"freq":2431,"db":-37.1},{"freq":2476,"db":-39.5},{"freq":2530,"db":-37.2},{"freq":2585,"db":-38.4},{"freq":2641,"db":-37.4},{"freq":2713,"db":-36.2},{"freq":2788,"db":-37.2},{"freq":2833,"db":-39.7},{"freq":2880,"db":-41.1},{"freq":2943,"db":-40},{"freq":2990,"db":-39.4},{"freq":3072,"db":-40},{"freq":3139,"db":-39.4},{"freq":3225,"db":-37.7},{"freq":3314,"db":-35.9},{"freq":3405,"db":-34.1},{"freq":3478,"db":-34.8},{"freq":3554,"db":-34.5},{"freq":3612,"db":-35.1},{"freq":3639,"db":-35.8},{"freq":3711,"db":-38.7},{"freq":3761,"db":-39},{"freq":3862,"db":-37.1},{"freq":3940,"db":-34.6},{"freq":4003,"db":-32.3},{"freq":4074,"db":-33.5},{"freq":4145,"db":-34.9},{"freq":4267,"db":-35.6},{"freq":4382,"db":-36},{"freq":4471,"db":-36.1},{"freq":4561,"db":-35.8},{"freq":4653,"db":-37.4},{"freq":4735,"db":-39.4},{"freq":4875,"db":-38.4},{"freq":5007,"db":-37.4},{"freq":5142,"db":-37.8},{"freq":5281,"db":-37.3},{"freq":5459,"db":-37.7},{"freq":5606,"db":-38.1},{"freq":5757,"db":-37.3},{"freq":5951,"db":-37.7},{"freq":6111,"db":-38.4},{"freq":6277,"db":-39.4},{"freq":6445,"db":-39.9},{"freq":6664,"db":-38.9},{"freq":6844,"db":-37.9},{"freq":6982,"db":-39.1},{"freq":7124,"db":-40.6},{"freq":7267,"db":-38.5},{"freq":7413,"db":-36.9},{"freq":7563,"db":-38.9},{"freq":7684,"db":-40.4},{"freq":7870,"db":-38.9},{"freq":8083,"db":-37.8},{"freq":8300,"db":-38.2},{"freq":8525,"db":-38.1},{"freq":8754,"db":-38.5},{"freq":8991,"db":-37.2},{"freq":9234,"db":-37.8},{"freq":9482,"db":-36.3},{"freq":9738,"db":-36.4},{"freq":9975,"db":-35.3},{"freq":10270,"db":-36.9},{"freq":10547,"db":-36},{"freq":10905,"db":-35.4},{"freq":11272,"db":-36},{"freq":11500,"db":-35.6},{"freq":11888,"db":-34.2},{"freq":12291,"db":-33.9},{"freq":12620,"db":-35.3},{"freq":12875,"db":-35.1},{"freq":13313,"db":-35.8},{"freq":13580,"db":-37.2},{"freq":13855,"db":-36.8},{"freq":14132,"db":-35.8},{"freq":14514,"db":-36.8},{"freq":14808,"db":-38.4},{"freq":15104,"db":-38.4},{"freq":15722,"db":-38.4},{"freq":16251,"db":-38.5},{"freq":16691,"db":-40.3},{"freq":17140,"db":-40.4},{"freq":17722,"db":-41.3},{"freq":18320,"db":-39.7},{"freq":18941,"db":-40.6},{"freq":19711,"db":-41.6},{"freq":20375,"db":-40.8},{"freq":21067,"db":-43.6},{"freq":21489,"db":-44.1},{"freq":21923,"db":-45.2}
]
},
"encoding": {
"x": {"field": "freq", "type": "quantitative",
 "scale": {"type": "log", "domain": [20, 22050], "nice": false},
 "axis": {"title": "Frequency [Hz]",
  "values": [20,30,40,50,60,70,80,90,100,200,300,400,500,600,700,800,900,1000,2000,3000,4000,5000,6000,7000,8000,9000,10000,20000],
  "labelExpr": "indexof([20,30,50,70,100,200,300,500,700,1000,2000,3000,5000,7000,10000,20000], datum.value) >= 0 ? (datum.value >= 1000 ? (datum.value / 1000) + 'k' : '' + datum.value) : ''",
  "grid": true, "gridColor": "#000000", "gridDash": [3, 2], "gridOpacity": 1, "gridWidth": 1,
  "domainColor": "#000000", "domainWidth": 2,
  "ticks": true, "tickColor": "#000000", "tickSize": 5, "tickWidth": 1,
  "labelColor": "#000000", "labelFontSize": 12, "labelPadding": 3, "labelOverlap": false, "labelFlush": false,
  "titleColor": "#000000", "titleFontSize": 12, "titleFontWeight": "normal", "titleX": 1064, "titleY": 34, "titleBaseline": "middle", "titleAlign": "center"}},
"y": {"field": "db", "type": "quantitative",
 "scale": {"domain": [-70, 10], "nice": false, "zero": false},
 "axis": {"title": "Amplitude [dB]",
  "values": [-70,-65,-60,-55,-50,-45,-40,-35,-30,-25,-20,-15,-10,-5,0,5,10],
  "grid": true, "gridColor": "#000000", "gridDash": [3, 2], "gridOpacity": 1, "gridWidth": 1,
  "domainColor": "#000000", "domainWidth": 2,
  "ticks": false, "tickSize": 0,
  "labelAlign": "left", "labelBaseline": "middle", "labelPadding": 30, "labelColor": "#000000", "labelFontSize": 12, "labelOverlap": false, "labelFlush": false,
  "titleAngle": 0, "titleAlign": "left", "titleBaseline": "middle", "titleX": -22, "titleY": -16, "titleFontSize": 13, "titleFontWeight": "normal", "titleColor": "#000000"}}
},
"layer": [
{"data": {"name": "blue"}, "mark": {"type": "line", "color": "#0c0ca0", "strokeWidth": 2, "interpolate": "monotone"}},
{"data": {"name": "red"}, "mark": {"type": "line", "color": "#a00000", "strokeWidth": 2, "interpolate": "monotone"}},
{"data": {"name": "green"}, "mark": {"type": "line", "color": "#007000", "strokeWidth": 2, "interpolate": "monotone"}},
{"data": {"name": "olive"}, "mark": {"type": "line", "color": "#949400", "strokeWidth": 2, "interpolate": "monotone"}}
]
}
